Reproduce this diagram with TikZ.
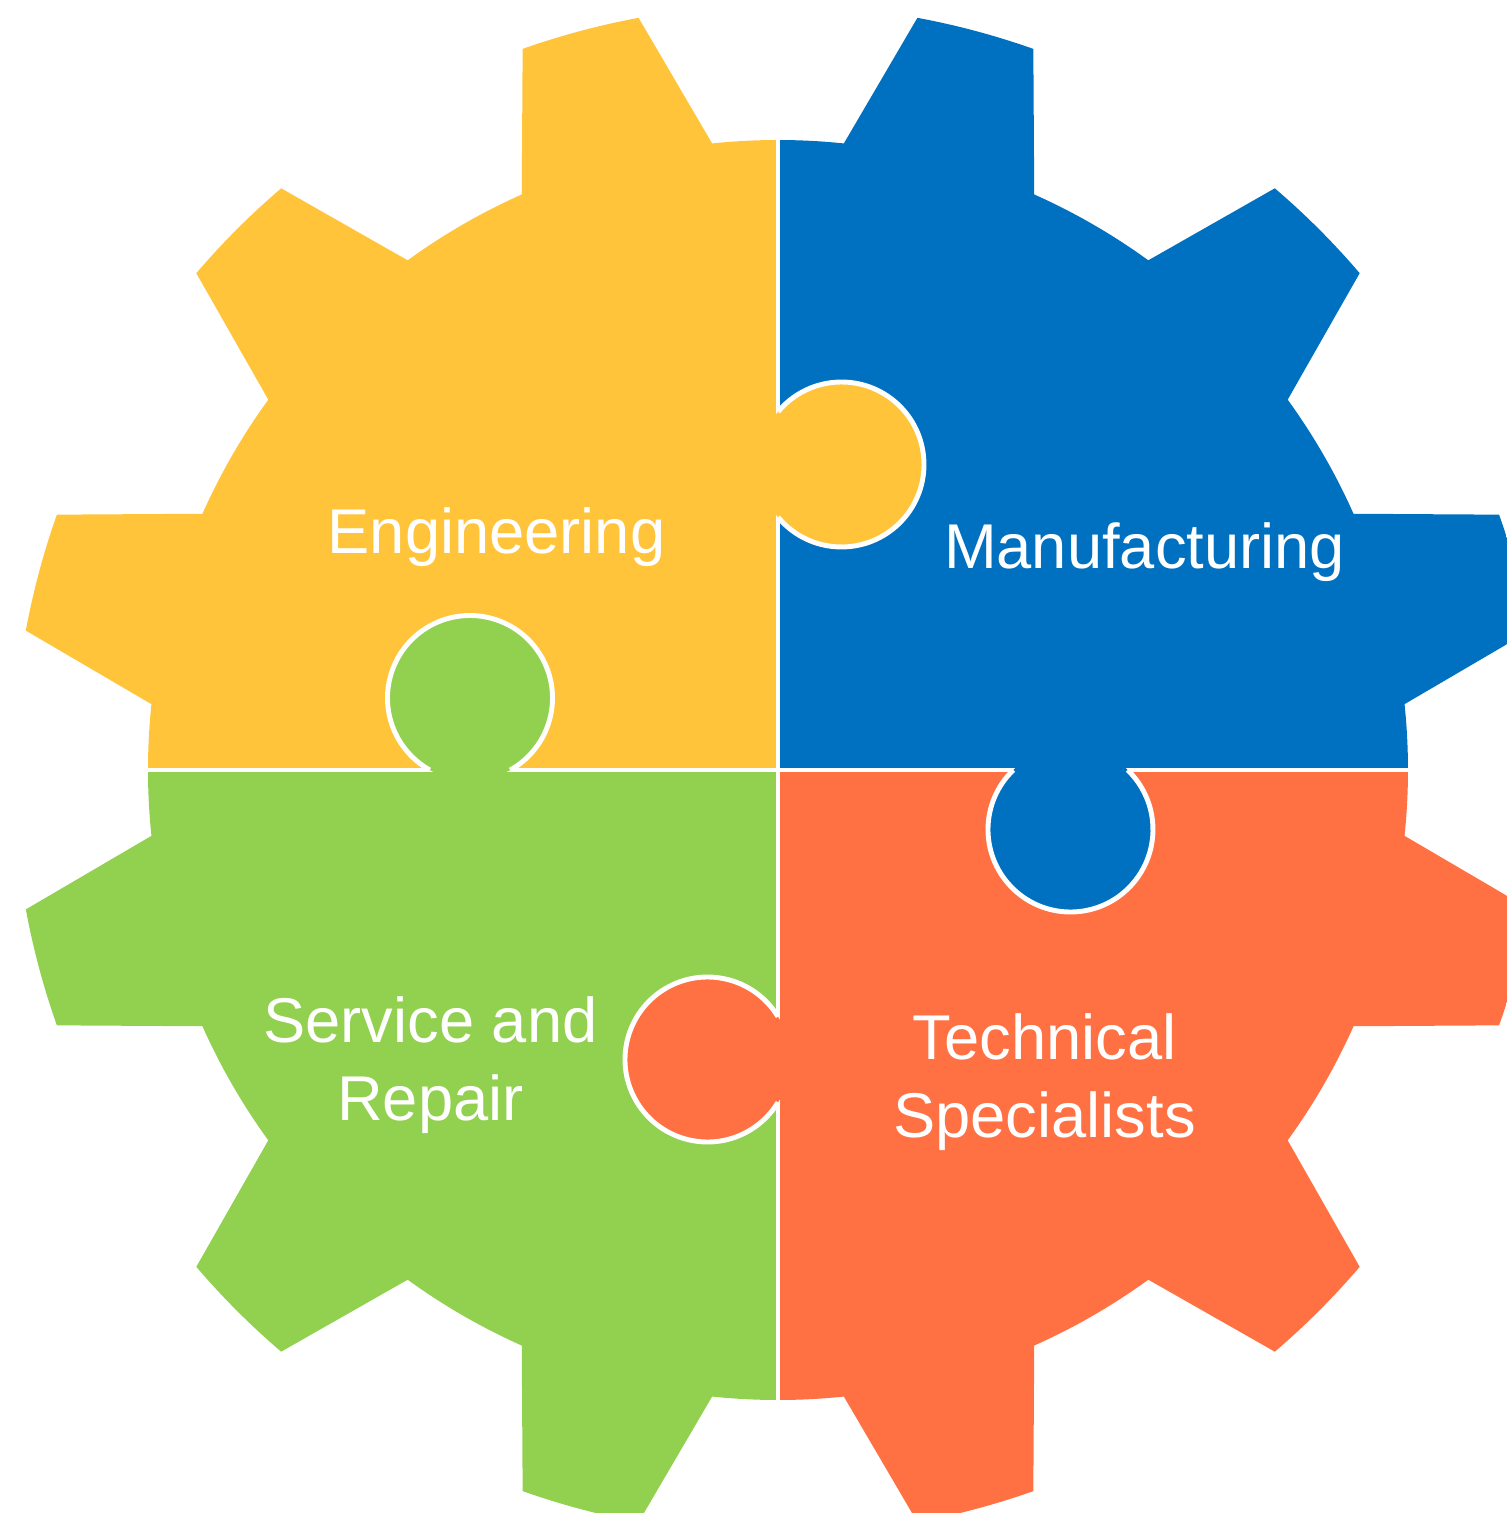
\documentclass[tikz,border=0pt]{standalone}
\usepackage{fontspec}
\setmainfont{Liberation Sans}
\definecolor{engyellow}{HTML}{FFC43A}
\definecolor{manblue}{HTML}{0070C0}
\definecolor{servgreen}{HTML}{92D050}
\definecolor{techorange}{HTML}{FF7043}
\tikzset{
  seam/.style={white, line width=1.2pt},
  knobline/.style={white, line width=1.4pt},
  piecetext/.style={text=white, font=\fontsize{18}{22}\selectfont, align=center, inner sep=0pt},
}
\begin{document}
\begin{tikzpicture}[x=0.1mm, y=0.1mm]
\def \rroot {630};
\def \rtip {765};
\def \rknob {82.5};
% Rahmen
\useasboundingbox (-778,-743) rectangle (729,770);
\clip (-778,-743) rectangle (729,770);
% Zahnrad mit vier Teilen
\begin{scope}
\clip (6:\rroot) \foreach \a in {15,45,...,345} {
  -- (\a-9:\rroot) -- (\a-4.5:\rtip)
  arc[start angle=\a-4.5, end angle=\a+4.5, radius=\rtip]
  -- (\a+9:\rroot)
  arc[start angle=\a+9, end angle=\a+21, radius=\rroot]
} -- cycle;
\fill[engyellow] (-800,0) rectangle (0,800);
\fill[manblue] (0,0) rectangle (800,800);
\fill[servgreen] (-800,-800) rectangle (0,0);
\fill[techorange] (0,-800) rectangle (800,0);
\draw[seam] (-700,0) -- (700,0);
\draw[seam] (0,-700) -- (0,700);
% Knoepfe
\fill[engyellow] (63.5,305.5) circle[radius=\rknob];
\draw[knobline] (63.5,305.5) ++(140.3:\rknob) arc[start angle=140.3, end angle=-140.3, radius=\rknob];
\fill[servgreen] (-308,72) circle[radius=\rknob];
\draw[knobline] (-308,72) ++(-60.8:\rknob) arc[start angle=-60.8, end angle=240.8, radius=\rknob];
\fill[manblue] (292.5,-59.5) circle[radius=\rknob];
\draw[knobline] (292.5,-59.5) ++(133.85:\rknob) arc[start angle=133.85, end angle=406.15, radius=\rknob];
\fill[techorange] (-70.5,-289.5) circle[radius=\rknob];
\draw[knobline] (-70.5,-289.5) ++(31.3:\rknob) arc[start angle=31.3, end angle=328.7, radius=\rknob];
\end{scope}
% Beschriftung
\node[piecetext, anchor=base] (engineering) at (-281.5,217) {Engineering};
\node[piecetext, anchor=base] (manufacturing) at (366.5,202) {Manufacturing};
\node[piecetext] (service) at (-347.5,-295) {Service and\\Repair};
\node[piecetext] (technical) at (266.5,-312) {Technical\\Specialists};
\end{tikzpicture}
\end{document}
